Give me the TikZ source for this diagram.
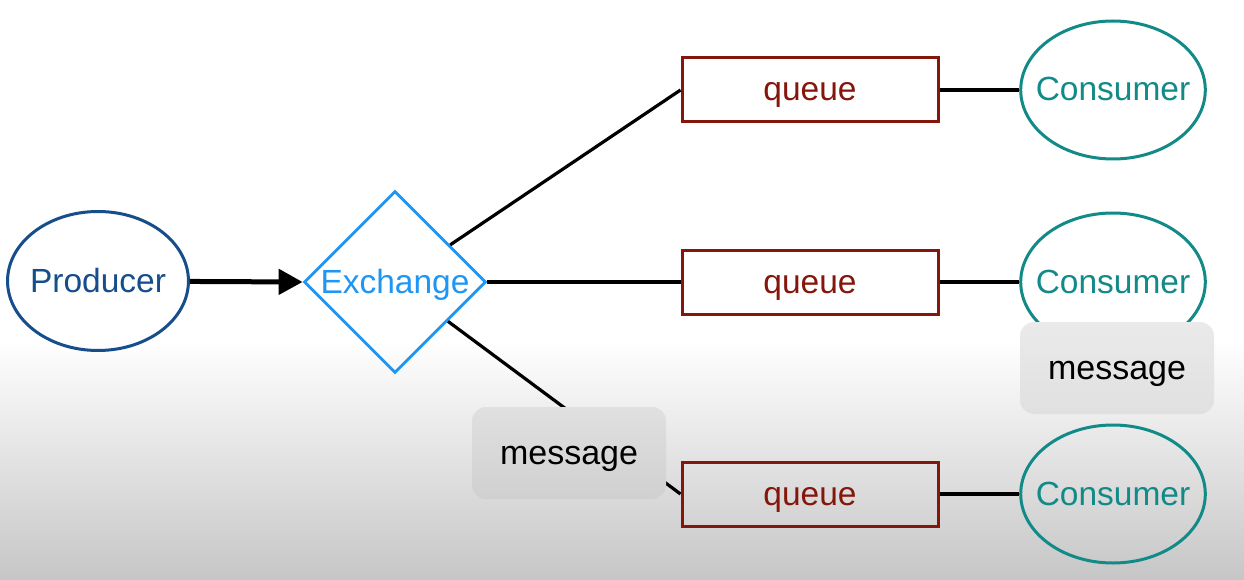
\documentclass[tikz,border=0pt]{standalone}
\usepackage{fontspec}
\setmainfont{Liberation Sans}
\usetikzlibrary{shapes.geometric,arrows.meta}
\definecolor{prodblue}{RGB}{22,78,140}
\definecolor{exblue}{RGB}{30,150,245}
\definecolor{qred}{RGB}{132,22,12}
\definecolor{conteal}{RGB}{18,138,136}
\definecolor{bggray}{RGB}{198,198,198}
\tikzset{
  lbl/.style={font=\fontsize{33.5}{38}\selectfont, text height=22pt, text depth=0pt},
  prodnode/.style={ellipse, draw=prodblue, text=prodblue, line width=3pt, minimum width=180pt, minimum height=139pt, inner xsep=-4pt, inner ysep=0pt, lbl},
  exnode/.style={diamond, draw=exblue, text=exblue, line width=2.8pt, minimum width=182pt, minimum height=182pt, inner sep=0pt, lbl},
  qnode/.style={rectangle, draw=qred, text=qred, line width=3pt, minimum width=256pt, minimum height=64pt, inner sep=0pt, lbl},
  connode/.style={ellipse, draw=conteal, text=conteal, line width=3pt, minimum width=182pt, minimum height=138pt, inner xsep=-12pt, inner ysep=0pt, lbl},
  msgnode/.style={rectangle, rounded corners=14pt, minimum width=194pt, minimum height=92pt, inner sep=0pt, text=black, font=\fontsize{34}{40}\selectfont, text height=22pt, text depth=0pt},
  link/.style={line width=3.2pt, black},
}
\begin{document}
\begin{tikzpicture}[x=1pt,y=-1pt]
\useasboundingbox (0,0) rectangle (1244,580);
\fill[white] (0,0) rectangle (1244,340);
\shade[top color=white, bottom color=bggray] (0,340) rectangle (1244,580);

\node[prodnode] (prod) at (98,281) {Producer};
\node[exnode] (ex) at (395,282) {Exchange};
\node[qnode] (q1) at (810,90) {queue};
\node[qnode] (q2) at (810,282) {queue};
\node[qnode] (q3) at (810,494) {queue};
\node[connode] (c1) at (1113,90) {Consumer};
\node[connode] (c2) at (1113,282) {Consumer};
\node[connode] (c3) at (1113,494) {Consumer};

\draw[line width=5pt, -{Triangle[length=24pt,width=25pt]}] (prod) -- (ex.west);
\draw[link] (ex) -- (q1.west);
\draw[link] (ex.east) -- (q2.west);
\draw[link] (ex) -- (q3.west);
\draw[link] (q1.east) -- (c1.west);
\draw[link] (q2.east) -- (c2.west);
\draw[link] (q3.east) -- (c3.west);

\node[msgnode, top color={rgb,255:red,224;green,224;blue,224}, bottom color={rgb,255:red,208;green,208;blue,208}] (m1) at (569,453) {message};
\node[msgnode, top color={rgb,255:red,234;green,234;blue,234}, bottom color={rgb,255:red,224;green,224;blue,224}] (m2) at (1117,368) {message};
\end{tikzpicture}
\end{document}
